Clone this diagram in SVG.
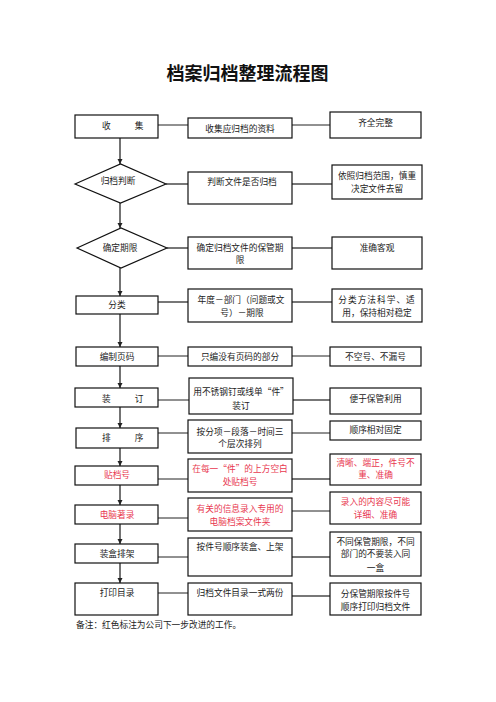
<svg xmlns="http://www.w3.org/2000/svg" width="496" height="702" viewBox="0 0 496 702">
<defs>
<marker id="ah" markerWidth="6" markerHeight="6" refX="5" refY="3" orient="auto" markerUnits="userSpaceOnUse">
<path d="M0,0.5 L5,3 L0,5.5 Z" fill="#222"/>
</marker>
<style>
.b{fill:#fff;stroke:#111;stroke-width:1.2}
.t{font-family:"Noto Sans CJK SC","Liberation Serif",serif;font-size:8.7px;fill:#222;text-anchor:middle}
.l{text-anchor:start}
.r{fill:#e8384f}
.c1{stroke:#222;stroke-width:1;fill:none}
.c2{stroke:#777;stroke-width:2;fill:none}
.v{stroke:#444;stroke-width:1.5;fill:none;marker-end:url(#ah)}
</style>
</defs>
<rect width="496" height="702" fill="#fff"/>
<text x="247.5" y="80" style="font-family:'Noto Sans CJK SC',sans-serif;font-size:18px;font-weight:bold;fill:#111;text-anchor:middle">档案归档整理流程图</text>

<g id="connectors">
<path class="v" d="M120,138 V164"/>
<path class="v" d="M120,203 V228"/>
<path class="v" d="M120,268 V296"/>
<path class="v" d="M120,314 V347"/>
<path class="v" d="M120,366 V388"/>
<path class="v" d="M120,407 V428"/>
<path class="v" d="M120,448 V466"/>
<path class="v" d="M120,485 V505"/>
<path class="v" d="M120,524 V544"/>
<path class="v" d="M120,563 V583"/>
<path class="c1" d="M158,125 H188 M292,125 H330"/>
<path class="c2" d="M166,184 H188 M292,184 H332"/>
<path class="c2" d="M167,248 H188 M292,248 H332"/>
<path class="c2" d="M158,302 H188 M292,302 H332"/>
<path class="c1" d="M158,356 H188 M292,356 H330"/>
<path class="c1" d="M158,400 H189"/>
<path class="c2" d="M293,400 H330"/>
<path class="c1" d="M158,433 H188 M292,433 H330"/>
<path class="c1" d="M158,479 H188"/>
<path class="c2" d="M292,479 H330"/>
<path class="c1" d="M158,518 H188 M292,511 H330"/>
<path class="c1" d="M158,557 H188"/>
<path class="c2" d="M292,557 H330"/>
<path class="c1" d="M158,593 H188"/>
<path class="c2" d="M292,596 H330"/>
</g>

<g id="n1"><rect class="b" x="75" y="115" width="83" height="23"/><text class="t l" x="102" y="129" letter-spacing="24">收集</text></g>
<g id="n1b"><rect class="b" x="188" y="118" width="104" height="20"/><text class="t" x="240" y="131.5">收集应归档的资料</text></g>
<g id="n1c"><rect class="b" x="330" y="112" width="91" height="26"/><text class="t" x="375.5" y="125.5">齐全完整</text></g>

<g id="n2"><path class="b" d="M75,184 L120.5,164 L166,184 L120.5,203 Z"/><text class="t" x="118" y="183.5">归档判断</text></g>
<g id="n2b"><rect class="b" x="188" y="172" width="104" height="32"/><text class="t" x="242" y="184.5">判断文件是否归档</text></g>
<g id="n2c"><rect class="b" x="332" y="165" width="90" height="34"/><text class="t" x="377" y="178.5">依照归档范围，慎重</text><text class="t" x="377" y="191.5">决定文件去留</text></g>

<g id="n3"><path class="b" d="M77,248 L121,228 L167,248 L121,268 Z"/><text class="t" x="120" y="250.5">确定期限</text></g>
<g id="n3b"><rect class="b" x="188" y="237" width="104" height="32"/><text class="t" x="240" y="250.5">确定归档文件的保管期</text><text class="t" x="240" y="262.5">限</text></g>
<g id="n3c"><rect class="b" x="332" y="237" width="90" height="32"/><text class="t" x="377" y="250.5">准确客观</text></g>

<g id="n4"><rect class="b" x="76" y="296" width="82" height="18"/><text class="t" x="117" y="307.5">分类</text></g>
<g id="n4b"><rect class="b" x="188" y="289" width="104" height="33"/><text class="t" x="241" y="302.5">年度－部门（问题或文</text><text class="t" x="242" y="315.5">号）－期限</text></g>
<g id="n4c"><rect class="b" x="332" y="289" width="90" height="33"/><text class="t" x="377" y="302.5" letter-spacing="1">分类方法科学、适</text><text class="t" x="377" y="315.5">用，保持相对稳定</text></g>

<g id="n5"><rect class="b" x="76" y="347" width="82" height="19"/><text class="t" x="117" y="359.5">编制页码</text></g>
<g id="n5b"><rect class="b" x="188" y="347" width="104" height="19"/><text class="t" x="240" y="359.5">只编没有页码的部分</text></g>
<g id="n5c"><rect class="b" x="330" y="347" width="91" height="19"/><text class="t" x="375.5" y="359.5">不空号、不漏号</text></g>

<g id="n6"><rect class="b" x="75" y="388" width="83" height="19"/><text class="t l" x="102" y="401.5" letter-spacing="24">装订</text></g>
<g id="n6b"><rect class="b" x="189" y="378" width="104" height="36"/><text class="t" x="241" y="394.5">用不锈钢钉或线单“件”</text><text class="t" x="241" y="408.5">装订</text></g>
<g id="n6c"><rect class="b" x="330" y="388" width="91" height="26"/><text class="t" x="375.5" y="401.5">便于保管利用</text></g>

<g id="n7"><rect class="b" x="76" y="428" width="82" height="20"/><text class="t l" x="102" y="440.5" letter-spacing="24">排序</text></g>
<g id="n7b"><rect class="b" x="188" y="420" width="104" height="33"/><text class="t" x="240" y="434.5">按分项－段落－时间三</text><text class="t" x="240" y="446.5">个层次排列</text></g>
<g id="n7c"><rect class="b" x="330" y="421" width="91" height="19"/><text class="t" x="375.5" y="432.5">顺序相对固定</text></g>

<g id="n8"><rect class="b" x="75" y="466" width="83" height="19"/><text class="t r" x="117" y="477.5">贴档号</text></g>
<g id="n8b"><rect class="b" x="188" y="459" width="104" height="33"/><text class="t r" x="240" y="471.5">在每一“件”的上方空白</text><text class="t r" x="240" y="484.5">处贴档号</text></g>
<g id="n8c"><rect class="b" x="330" y="454" width="91" height="31"/><text class="t r" x="375.5" y="465.5">清晰、端正，件号不</text><text class="t r" x="375.5" y="478">重、准确</text></g>

<g id="n9"><rect class="b" x="75" y="505" width="83" height="19"/><text class="t r" x="117" y="517.5">电脑著录</text></g>
<g id="n9b"><rect class="b" x="188" y="498" width="104" height="33"/><text class="t r" x="240" y="511.5">有关的信息录入专用的</text><text class="t r" x="240" y="524.5">电脑档案文件夹</text></g>
<g id="n9c"><rect class="b" x="330" y="492" width="91" height="32"/><text class="t r" x="375.5" y="505">录入的内容尽可能</text><text class="t r" x="375.5" y="517.5">详细、准确</text></g>

<g id="n10"><rect class="b" x="75" y="544" width="83" height="19"/><text class="t" x="117" y="556.5">装盒排架</text></g>
<g id="n10b"><rect class="b" x="188" y="538" width="104" height="38"/><text class="t" x="240" y="549.5">按件号顺序装盒、上架</text></g>
<g id="n10c"><rect class="b" x="330" y="532" width="91" height="44"/><text class="t" x="375.5" y="544.5">不同保管期限，不同</text><text class="t" x="375.5" y="557">部门的不要装入同</text><text class="t" x="375.5" y="570.5">一盒</text></g>

<g id="n11"><rect class="b" x="75" y="583" width="83" height="32"/><text class="t" x="117" y="595.5">打印目录</text></g>
<g id="n11b"><rect class="b" x="188" y="583" width="104" height="32"/><text class="t" x="240" y="595.5">归档文件目录一式两份</text></g>
<g id="n11c"><rect class="b" x="330" y="583" width="91" height="32"/><text class="t" x="375.5" y="596.5">分保管期限按件号</text><text class="t" x="375.5" y="609.5">顺序打印归档文件</text></g>

<text class="t l" x="76" y="627.5">备注：红色标注为公司下一步改进的工作。</text>
</svg>
